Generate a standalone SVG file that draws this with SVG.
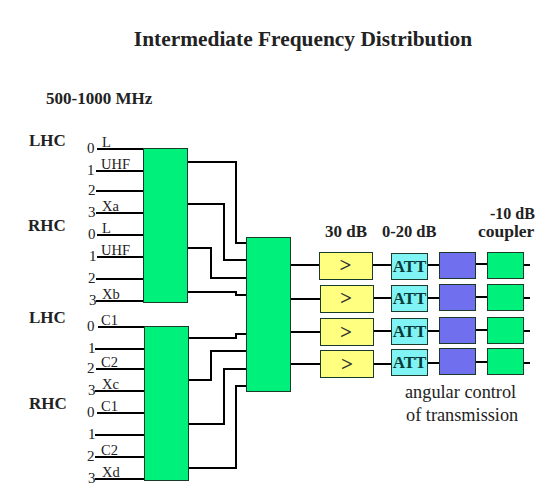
<svg xmlns="http://www.w3.org/2000/svg" width="550" height="500" viewBox="0 0 550 500">
<style>
text{font-family:"Liberation Serif","Times New Roman",serif;fill:#222}
.b{font-weight:bold}
.h{font-size:17px;font-weight:bold}
.n{font-size:15px}
.l{font-size:14.500px}
.c{fill:none;stroke:#000;stroke-width:2}
.box{stroke:#1a3a2a;stroke-width:1}
.g{fill:#00f07c}
.y{fill:#ffff80}
.a{fill:#80f4f4}
.p{fill:#7070ee}
.t{font-size:17px;font-weight:bold;text-anchor:middle;fill:#063a3a}
.m{font-size:21px;font-weight:bold;text-anchor:middle;fill:#333}
.s{font-size:18.300px}
</style>
<rect width="550" height="500" fill="#fff"/>
<text id="title" class="b" x="303" y="46" font-size="21.400" text-anchor="middle">Intermediate Frequency Distribution</text>
<text class="b" x="46" y="104" font-size="17">500-1000 MHz</text>
<g id="connectors" class="c">
<path d="M97 149H144M96 171H144M96 191H144M96 213H144M97 235H144M97 257H144M96 279H144M96 301H144"/>
<path d="M98 327H145M95 349H145M96 369H145M95 391H145M97 413H145M95 435H145M95 457H145M95 479H145"/>
<path d="M187 162H236V243H247M187 204H224V260H247M187 248H211V278H247M187 292H236V295H247"/>
<path d="M188 338H236V334H247M188 380H211V351H247M188 424H224V369H247M188 468H236V386H247"/>
<path d="M290 265H320M290 299H321M290 332H321M290 364H321"/>
<path d="M372 265H392M373 298H392M373 331H392M373 364H392"/>
<path d="M427 265H440M427 298H440M427 331H440M427 363H440"/>
<path d="M475 264H488M475 297H488M475 330H488M475 362H488"/>
<path d="M523 265H530M523 298H530M523 331H530M523 363H530"/>
</g>
<g id="splitter-top"><rect class="box g" x="143.5" y="148.5" width="44" height="154"/></g>
<g id="splitter-bottom"><rect class="box g" x="144.5" y="326.5" width="44" height="154"/></g>
<g id="combiner"><rect class="box g" x="246.5" y="237.5" width="44" height="154"/></g>
<g id="amp1"><rect class="box y" x="319.5" y="252.5" width="53" height="27"/><text class="m" x="345.500" y="272">&gt;</text></g>
<g id="amp2"><rect class="box y" x="320.5" y="285.5" width="53" height="27"/><text class="m" x="346" y="305">&gt;</text></g>
<g id="amp3"><rect class="box y" x="320.5" y="318.5" width="53" height="27"/><text class="m" x="346" y="339">&gt;</text></g>
<g id="amp4"><rect class="box y" x="320.5" y="350.5" width="53" height="27"/><text class="m" x="347" y="371">&gt;</text></g>
<g id="att1"><rect class="box a" x="391.5" y="253.5" width="36" height="26"/><text class="t" x="409.500" y="272">ATT</text></g>
<g id="att2"><rect class="box a" x="391.5" y="285.5" width="36" height="26"/><text class="t" x="409.500" y="304">ATT</text></g>
<g id="att3"><rect class="box a" x="391.5" y="318.5" width="36" height="26"/><text class="t" x="409.500" y="337">ATT</text></g>
<g id="att4"><rect class="box a" x="391.5" y="349.5" width="36" height="26"/><text class="t" x="409.500" y="368">ATT</text></g>
<g id="ctrl1"><rect class="box p" x="439.5" y="252.500" width="36" height="26"/></g>
<g id="ctrl2"><rect class="box p" x="439.5" y="284.500" width="36" height="26"/></g>
<g id="ctrl3"><rect class="box p" x="439.5" y="317.500" width="36" height="26"/></g>
<g id="ctrl4"><rect class="box p" x="439.5" y="348.500" width="36" height="26"/></g>
<g id="coupler1"><rect class="box g" x="487.5" y="252.500" width="36" height="26"/></g>
<g id="coupler2"><rect class="box g" x="487.5" y="284.500" width="36" height="26"/></g>
<g id="coupler3"><rect class="box g" x="487.5" y="317.500" width="36" height="26"/></g>
<g id="coupler4"><rect class="box g" x="487.5" y="348.500" width="36" height="26"/></g>
<text class="h" x="325" y="237">30 dB</text>
<text class="h" x="382" y="237" style="font-size:16.500px">0-20 dB</text>
<text class="h" x="490" y="219" style="font-size:16px">-10 dB</text>
<text class="h" x="478" y="237" style="font-size:17.500px">coupler</text>
<text class="s" x="405" y="398">angular control</text>
<text class="s" x="406" y="421">of transmission</text>
<text class="h" x="29" y="146">LHC</text>
<text class="h" x="28" y="231">RHC</text>
<text class="h" x="29" y="323">LHC</text>
<text class="h" x="29" y="409">RHC</text>
<g class="n">
<text x="87" y="153">0</text><text x="87" y="175">1</text><text x="88" y="195">2</text><text x="88" y="217">3</text><text x="88" y="239">0</text><text x="89" y="261">1</text><text x="88" y="283">2</text><text x="89" y="305">3</text>
<text x="87" y="331">0</text><text x="88" y="353">1</text><text x="87" y="373">2</text><text x="88" y="395">3</text><text x="87" y="417">0</text><text x="88" y="439">1</text><text x="87" y="461">2</text><text x="88" y="483">3</text>
</g>
<g class="l">
<text x="102" y="147">L</text><text x="101" y="169">UHF</text><text x="102" y="211">Xa</text><text x="102" y="233">L</text><text x="101" y="255">UHF</text><text x="102" y="299">Xb</text>
<text x="101" y="325">C1</text><text x="101" y="367">C2</text><text x="102" y="389">Xc</text><text x="101" y="411">C1</text><text x="101" y="455">C2</text><text x="102" y="477">Xd</text>
</g>
</svg>
